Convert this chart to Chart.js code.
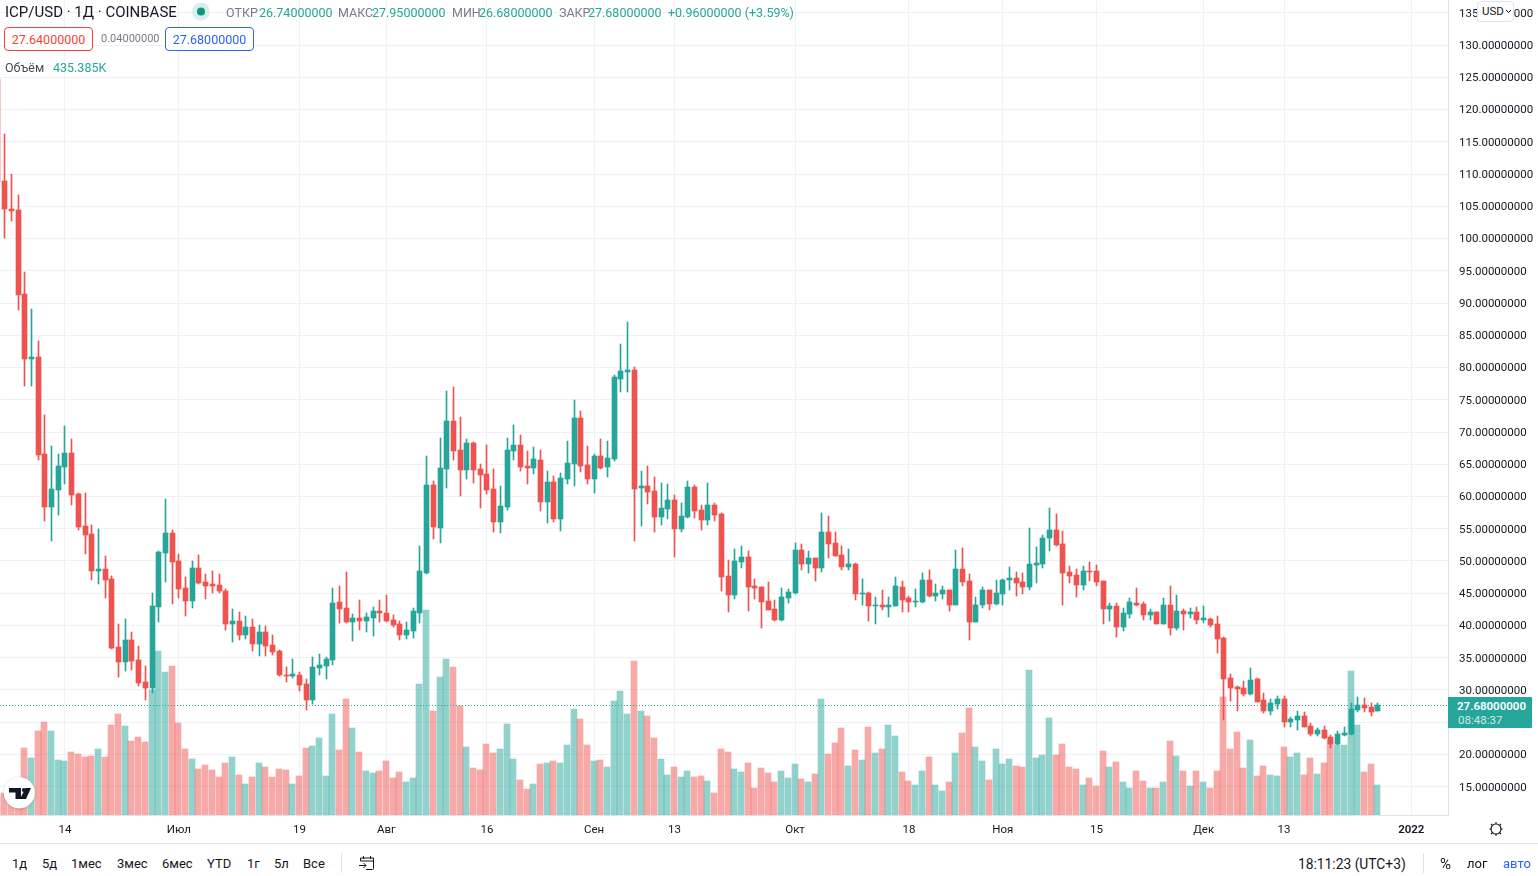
<!DOCTYPE html>
<html lang="ru">
<head>
<meta charset="utf-8">
<title>ICP/USD · 1Д · COINBASE</title>
<script src="https://cdn.jsdelivr.net/npm/chart.js@4/dist/chart.umd.min.js"></script>
<style>
  html, body { margin: 0; padding: 0; background: #fff; width: 1538px; height: 876px; overflow: hidden; }
  body { position: relative; font-family: Roboto, sans-serif; color: #131722; }
  #plot { position: absolute; left: 0; top: 0; }
  .t { position: absolute; white-space: nowrap; line-height: 16px; height: 16px; }
  .gray { color: #787b86; font-size: 12.5px; }
  .teal { color: #26a69a; font-size: 12.5px; }
  .box { position: absolute; box-sizing: border-box; height: 24px; width: 89px; top: 27px; border: 1px solid; border-radius: 4px;
         text-align: center; line-height: 23px; font-size: 12.5px; background: #fff; }
  .tool { font-size: 13px; top: 856px; }
  .rule { position: absolute; background: #e0e3eb; }
  #usd { position: absolute; left: 1477px; top: 1px; width: 37px; height: 21px; box-sizing: border-box; background: #fff;
         border: 1px solid #e0e3eb; border-radius: 4px; font-size: 11.5px; line-height: 19px; padding-left: 4px; }
  #lastBox { position: absolute; left: 1448px; top: 697px; width: 84px; height: 31px; background: #26a69a; color: #fff;
             font-size: 11.5px; line-height: 14px; border-radius: 0 1px 1px 0; }
  #lastBox b { display: block; margin: 2px 0 0 9px; font-weight: 600; }
  #lastBox span { display: block; color: #cfeae7; margin-left: 10px; }
  svg { position: absolute; overflow: visible; }
</style>
</head>
<body>
<canvas id="plot" width="1538" height="843"></canvas>

<div class="t" style="left:5px;top:4px;font-size:15px">ICP/USD · 1Д · COINBASE</div>
<svg style="left:0;top:0" width="1" height="1">
  <circle cx="201" cy="11.5" r="9" fill="#d8efec"/><circle cx="201" cy="11.5" r="4" fill="#089981"/>
</svg>
<div class="t gray" style="left:226px;top:5px">ОТКР</div><div class="t teal" style="left:259px;top:5px">26.74000000</div>
<div class="t gray" style="left:338px;top:5px">МАКС</div><div class="t teal" style="left:372px;top:5px">27.95000000</div>
<div class="t gray" style="left:452px;top:5px">МИН</div><div class="t teal" style="left:479px;top:5px">26.68000000</div>
<div class="t gray" style="left:559px;top:5px">ЗАКР</div><div class="t teal" style="left:588px;top:5px">27.68000000</div>
<div class="t teal" style="left:668px;top:5px">+0.96000000 (+3.59%)</div>

<div class="box" style="left:4px;border-color:#f44336;color:#f44336">27.64000000</div>
<div class="t" style="left:101px;top:31px;font-size:11px;color:#787b86">0.04000000</div>
<div class="box" style="left:165px;border-color:#2962ff;color:#2962ff">27.68000000</div>

<div class="t" style="left:5px;top:60px;font-size:12.5px;color:#4a4e59">Объём</div>
<div class="t teal" style="left:53px;top:60px">435.385K</div>

<div id="usd">USD<svg style="left:27px;top:7px" width="7" height="5"><path d="M1 1l2.5 2.5L6 1" fill="none" stroke="#131722"/></svg></div>
<div id="lastBox"><b>27.68000000</b><span>08:48:37</span></div>

<!-- watermark badge -->
<svg style="left:0;top:0" width="1" height="1">
  <defs><filter id="sh" x="-30%" y="-30%" width="160%" height="160%"><feDropShadow dx="0" dy="0.5" stdDeviation="1.2" flood-color="#000" flood-opacity=".3"/></filter></defs>
  <circle cx="19.3" cy="792.7" r="15.5" fill="#fff" filter="url(#sh)"/>
  <path d="M9 788h12v11h-5.5v-6.5H9z" fill="#131722"/>
  <circle cx="23.8" cy="790" r="1.9" fill="#131722"/>
  <path d="M25.5 788h5.5l-5 11h-6z" fill="#131722"/>
</svg>

<!-- settings icon on the axis corner -->
<svg style="left:1488px;top:821px" width="16" height="16" viewBox="0 0 16 16">
  <circle cx="8" cy="8" r="5" fill="none" stroke="#131722" stroke-width="1.1"/>
  <path d="M8 1v2M8 13v2M1.5 8h2M12.5 8h2M3 3l1.4 1.4M11.6 11.6L13 13M13 3l-1.4 1.4M4.4 11.6L3 13" stroke="#131722" stroke-width="1.1"/>
</svg>

<div class="rule" style="left:0;top:843px;width:1538px;height:1px"></div>
<div class="rule" style="left:341px;top:853px;width:1px;height:20px"></div>
<div class="rule" style="left:1423px;top:853px;width:1px;height:20px"></div>

<div class="t tool" style="left:12px">1д</div>
<div class="t tool" style="left:42px">5д</div>
<div class="t tool" style="left:71px">1мес</div>
<div class="t tool" style="left:117px">3мес</div>
<div class="t tool" style="left:162px">6мес</div>
<div class="t tool" style="left:207px">YTD</div>
<div class="t tool" style="left:247px">1г</div>
<div class="t tool" style="left:274px">5л</div>
<div class="t tool" style="left:303px">Все</div>
<svg style="left:358px;top:855px" width="18" height="16" viewBox="0 0 18 16">
  <path d="M2.5 6V3h13v10.5a1 1 0 0 1-1 1H8M2.5 6h13M5.5 1v3M12.5 1v3M1 10.5h7M5.5 8L8 10.5 5.5 13" fill="none" stroke="#131722" stroke-width="1"/>
</svg>
<div class="t tool" style="left:1298px;font-size:13.8px">18:11:23 (UTC+3)</div>
<div class="t tool" style="left:1440px;font-size:15px">%</div>
<div class="t tool" style="left:1467px">лог</div>
<div class="t tool" style="left:1503px;color:#2962ff">авто</div>

<script>
// ICP/USD daily candles, one entry per session starting 4 June 2021
const highs = [
124.74,116.21,110.01,106.75,94.81,89.08,84.11,72.64,67.83,66.59,
70.93,68.92,60.54,60.54,55.58,54.96,50.78,47.68,40.23,41.01,
38.99,36.82,33.72,45.04,51.55,59.62,54.81,51.09,47.52,50.00,
50.93,47.99,48.45,47.99,45.66,42.56,42.09,41.47,41.01,40.08,
39.92,38.53,36.20,33.56,34.81,32.79,31.71,35.11,35.58,35.11,
45.81,46.13,48.30,41.78,43.95,41.94,42.87,43.95,44.73,41.63,
40.70,40.54,42.71,52.33,66.28,62.41,69.07,76.36,76.98,72.33,
68.92,68.45,65.04,67.99,64.27,61.63,69.07,71.09,69.54,67.06,
67.68,67.21,63.96,63.18,63.65,68.61,74.97,73.26,67.83,66.59,
68.92,68.61,78.84,83.65,87.06,80.08,63.96,64.73,63.03,62.10,
61.94,60.23,58.99,62.41,61.78,58.68,62.10,58.99,57.44,50.16,
51.86,52.33,51.55,47.21,45.97,46.75,43.95,45.81,45.66,52.79,
52.64,51.55,50.47,57.44,56.98,54.50,52.33,51.86,49.69,47.21,
45.19,44.42,45.50,44.42,47.52,46.90,44.57,45.66,48.14,48.61,
46.44,46.13,45.50,51.71,52.02,47.99,44.42,45.97,45.50,47.06,
47.21,49.07,48.30,48.14,55.12,52.17,54.03,58.22,57.29,54.65,
49.23,48.76,49.23,49.85,49.38,46.90,43.49,43.49,42.71,44.26,
45.81,43.64,42.56,42.09,44.26,46.13,44.73,42.56,42.71,42.87,
43.02,41.16,41.47,38.22,32.48,30.62,31.40,33.41,31.86,29.53,
28.60,29.07,29.07,25.81,26.74,26.59,24.88,24.11,24.42,23.02,
23.64,24.26,27.98,28.91,28.76,27.98,27.95];

const opens = [
124.74,108.92,104.58,104.43,91.40,81.32,81.63,66.59,58.37,61.01,
64.58,66.75,60.39,55.43,54.19,48.45,48.76,47.21,36.67,34.34,
37.75,34.65,31.24,30.31,42.87,51.24,54.34,50.00,45.81,43.80,
48.92,46.75,46.44,46.28,45.35,40.23,40.70,38.53,39.77,37.13,
38.99,36.98,36.05,32.32,32.17,32.32,30.93,28.45,33.41,33.72,
34.65,43.64,42.71,40.54,41.16,40.70,41.16,42.25,41.94,40.85,
40.23,38.53,39.15,41.94,48.14,61.78,55.12,64.27,71.71,67.21,
64.11,68.30,64.27,63.49,61.17,56.05,58.37,67.06,67.99,64.73,
64.42,65.66,59.15,62.25,56.51,62.72,65.04,72.17,64.89,62.72,
66.28,64.58,65.82,78.22,79.31,79.62,61.32,61.63,60.85,56.82,
58.07,59.46,54.96,56.82,61.48,57.91,56.36,58.68,57.29,47.68,
44.73,49.85,50.62,46.13,45.97,43.80,42.56,40.85,44.26,45.04,
51.71,49.54,50.47,48.92,54.50,52.79,50.93,49.07,49.54,44.88,
45.04,43.02,43.18,42.87,43.02,45.97,44.26,43.64,43.64,47.06,
44.57,44.88,45.50,43.18,48.76,46.90,40.54,43.18,45.50,43.33,
44.88,47.06,47.37,46.75,45.97,49.38,49.54,53.57,54.81,52.64,
48.30,47.83,46.28,48.45,48.45,46.90,42.56,43.02,39.77,41.78,
43.49,43.33,41.63,42.09,40.23,43.18,39.61,42.25,41.78,42.09,
40.85,41.01,40.23,38.06,31.86,30.46,30.31,29.38,31.71,28.45,
26.74,27.83,28.60,25.04,25.35,25.97,24.42,23.18,23.80,22.71,
21.62,23.02,23.18,26.90,27.67,27.36,26.74];

const closes = [
108.77,104.58,104.27,91.25,81.32,81.63,66.44,58.37,61.17,64.73,
66.75,60.23,55.27,54.03,48.45,48.76,47.06,36.51,34.34,37.75,
34.49,31.09,30.31,43.02,51.40,54.34,49.85,45.66,43.80,48.92,
46.59,46.13,46.13,45.35,40.23,40.70,38.53,39.77,37.13,38.99,
36.82,35.89,32.32,32.17,32.48,30.78,28.45,33.56,33.87,34.81,
43.49,42.56,40.54,41.16,40.70,41.32,42.25,41.94,40.70,40.08,
38.53,39.30,42.25,48.45,61.78,55.27,64.42,71.71,67.06,64.11,
68.30,64.11,63.34,61.01,56.05,58.53,67.21,67.99,64.58,64.42,
65.82,59.15,62.25,56.51,62.87,65.20,72.17,64.73,62.72,66.28,
64.42,65.97,78.53,79.46,79.62,61.17,61.63,60.70,56.82,58.22,
59.46,54.96,56.98,61.48,57.75,56.36,58.68,57.13,47.52,44.73,
50.00,50.62,45.97,45.81,43.64,42.40,40.85,44.42,45.19,51.71,
49.54,50.47,48.92,54.50,52.64,50.78,49.07,49.54,44.88,45.04,
43.02,43.18,42.87,43.18,46.13,43.95,43.64,43.80,47.06,44.57,
45.04,45.50,43.18,48.76,46.75,40.54,43.18,45.50,43.33,45.04,
47.06,47.37,46.59,45.97,49.54,49.69,53.57,54.81,52.48,48.14,
47.68,46.28,48.45,48.30,46.75,42.56,43.02,39.77,41.94,43.64,
43.18,41.63,42.09,40.23,43.18,39.61,42.25,41.78,42.09,40.85,
41.16,40.08,37.90,31.71,30.31,30.15,29.38,31.55,28.14,26.74,
27.98,28.60,25.04,25.50,25.97,24.26,23.18,23.80,22.56,21.62,
23.18,23.33,27.05,27.67,27.21,26.59,27.68];

const lows = [
108.50,100.09,102.72,88.92,77.14,77.14,65.66,56.20,53.10,57.13,
61.94,58.68,54.81,51.09,47.06,46.44,44.26,36.36,32.01,32.95,
33.10,30.62,28.45,29.53,40.54,46.75,43.33,44.26,41.47,42.71,
46.44,44.11,45.04,45.04,39.30,37.44,37.75,37.90,36.05,35.27,
35.27,35.42,32.17,31.24,31.86,29.84,26.90,27.83,32.32,31.71,
33.87,40.39,40.39,37.59,39.30,38.99,38.37,40.54,40.54,39.77,
37.75,37.90,38.06,40.39,47.99,53.41,52.79,61.32,65.66,60.08,
62.72,62.10,58.22,60.39,54.50,54.34,57.91,65.66,63.96,61.94,
63.49,57.75,55.89,56.05,54.65,61.94,61.63,63.80,61.94,60.54,
64.27,63.03,65.51,76.21,76.21,53.10,55.43,58.84,54.50,55.58,
56.51,50.62,54.50,56.67,56.67,54.81,55.58,56.20,45.35,42.09,
44.11,48.92,42.25,44.11,39.61,42.40,40.70,40.70,43.49,44.88,
48.61,48.14,46.90,48.30,50.47,50.78,48.61,48.61,43.95,43.18,
40.70,40.23,42.40,41.32,43.02,42.09,42.09,42.87,43.49,44.42,
43.80,44.11,42.25,43.18,46.13,37.75,40.54,42.71,42.40,43.18,
43.18,45.50,44.57,44.88,45.50,46.59,48.92,51.55,52.33,43.18,
46.59,44.42,45.50,46.90,46.13,40.23,40.70,38.22,39.15,41.16,
43.02,40.85,40.85,40.23,40.23,38.53,39.30,39.30,41.16,40.23,
40.39,39.77,35.73,25.35,28.29,26.74,29.07,29.22,28.14,26.43,
26.12,27.05,24.26,24.26,23.80,24.26,22.87,22.87,22.40,21.00,
21.47,22.87,23.02,26.59,26.59,25.97,26.68];

// Traded volume in thousands of ICP
const volumes = [
290,319,435,406,972,827,1218,1349,1218,798,
783,914,885,841,856,957,841,1305,1465,1291,
1073,1131,1059,1813,2378,2074,2161,1334,957,812,
667,725,653,551,754,841,580,450,551,754,
696,551,667,653,450,566,972,1001,1117,566,
1465,943,1682,1262,914,638,609,638,783,537,
624,479,537,1900,2973,1508,2001,2262,2146,1581,
986,682,653,1030,899,957,1320,812,508,377,
450,740,754,783,754,1015,1537,1392,1015,783,
798,696,1653,1798,1465,2233,1508,1436,1117,812,
580,696,551,638,551,566,493,319,957,914,
667,624,754,392,682,609,479,638,537,740,
522,479,595,1682,885,1044,1262,711,943,798,
1276,899,957,1305,1146,624,493,435,638,841,
435,348,479,899,1189,1552,986,783,508,957,
740,812,711,696,2103,827,870,1407,870,1030,
696,667,435,537,421,928,696,769,479,392,
638,493,392,392,479,1073,856,638,421,638,
479,392,638,1711,957,1204,682,1088,566,711,
580,566,986,841,899,580,827,595,754,1088,
1015,1015,2088,1305,624,740,435.385];

// Session numbers that carry a date label, and the labels themselves
const dateTickSessions = [10, 27, 45, 58, 73, 89, 101, 119, 136, 150, 164, 180, 192, 211];
const dateTickLabels = ['14', 'Июл', '19', 'Авг', '16', 'Сен', '13', 'Окт', '18', 'Ноя', '15', 'Дек', '13', '2022'];
const priceTicks = [15, 20, 25, 30, 35, 40, 45, 50, 55, 60, 65, 70, 75, 80, 85, 90, 95, 100, 105, 110, 115, 120, 125, 130, 135];

const lastClose = closes[closes.length - 1];
const SESSION_MIN = 0.3, SESSION_MAX = 216.48;
const UP = '#26a69a', DOWN = '#ef5350';
const UP_VOL = 'rgba(38,166,154,0.5)', DOWN_VOL = 'rgba(239,83,80,0.5)';
const GRID = '#f0f1f4', EDGE = '#e0e3eb';

const isUp = i => closes[i] >= opens[i];

// Marks sit on whole pixels so that wicks and the dotted price line stay crisp
const pixelSnap = {
  id: 'pixelSnap',
  beforeDatasetsDraw(chart) {
    chart.data.datasets.forEach((ds, n) => {
      const elements = chart.getDatasetMeta(n).data;
      if (ds.type === 'line') {
        elements.forEach(el => { el.y = Math.round(el.y) + 0.5; });
        return;
      }
      elements.forEach(el => {
        const w = Math.round(el.width);
        el.width = w;
        el.x = Math.floor(el.x) + (w % 2 ? 0.5 : 0);
        el.y = Math.round(el.y);
        el.base = Math.round(el.base);
        if (el.y === el.base) el.base += 1;
      });
    });
  }
};

new Chart(document.getElementById('plot'), {
  type: 'bar',
  plugins: [pixelSnap],
  data: {
    datasets: [
      {
        type: 'line', yAxisID: 'y', order: 0,
        data: [{ x: SESSION_MIN, y: lastClose }, { x: SESSION_MAX, y: lastClose }],
        borderColor: UP, borderWidth: 1, borderDash: [1, 2], pointRadius: 0
      },
      {
        label: 'body', yAxisID: 'y', order: 1, grouped: false, barThickness: 5, borderWidth: 0,
        data: opens.map((o, i) => ({ x: i, y: [o, closes[i]] })),
        backgroundColor: c => isUp(c.dataIndex) ? UP : DOWN
      },
      {
        label: 'wick', yAxisID: 'y', order: 2, grouped: false, barThickness: 1, borderWidth: 0,
        data: lows.map((l, i) => ({ x: i, y: [l, highs[i]] })),
        backgroundColor: c => isUp(c.dataIndex) ? UP : DOWN
      },
      {
        label: 'Объём', yAxisID: 'vol', order: 3, grouped: false, barThickness: 6, borderWidth: 0,
        data: volumes.map((v, i) => ({ x: i, y: v })),
        backgroundColor: c => isUp(c.dataIndex) ? UP_VOL : DOWN_VOL
      }
    ]
  },
  options: {
    responsive: false,
    animation: false,
    events: [],
    layout: { padding: 0 },
    plugins: { legend: { display: false }, tooltip: { enabled: false } },
    scales: {
      x: {
        type: 'linear', offset: false, min: SESSION_MIN, max: SESSION_MAX,
        afterBuildTicks: s => { s.ticks = dateTickSessions.map(value => ({ value })); },
        afterFit: s => { s.height = 28; s.paddingLeft = 0; s.paddingRight = 0; },
        grid: { offset: false, color: GRID, lineWidth: 1, drawTicks: false },
        border: { display: true, color: EDGE },
        ticks: {
          autoSkip: false, maxRotation: 0, padding: 8, color: '#131722',
          font: c => ({ family: 'Roboto', size: 11.5, weight: c.tick && c.tick.value === 211 ? '600' : '400' }),
          callback: v => dateTickLabels[dateTickSessions.indexOf(v)]
        }
      },
      y: {
        position: 'right', min: 10.61, max: 136.99,
        afterBuildTicks: s => { s.ticks = priceTicks.map(value => ({ value })); },
        afterFit: s => { s.width = 90; s.paddingTop = 0; s.paddingBottom = 0; },
        grid: { color: GRID, lineWidth: 1, drawTicks: false },
        border: { display: true, color: EDGE },
        ticks: {
          padding: 11, color: '#131722', autoSkip: false, labelOffset: 1,
          font: { family: 'Roboto', size: 11.5 },
          callback: v => v.toFixed(8)
        }
      },
      vol: { display: false, min: 0, max: 11818 }
    }
  }
});
</script>
</body>
</html>
